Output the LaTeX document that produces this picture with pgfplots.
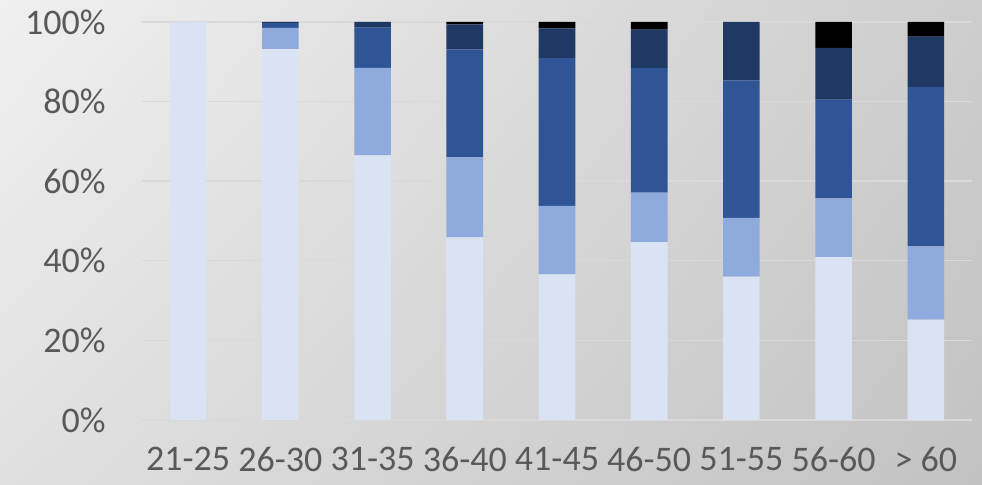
\documentclass[border=0pt]{standalone}
\usepackage{fontspec}
\setmainfont{Carlito}
\usepackage{pgfplots}
\usepackage{pgfplotstable}
\usetikzlibrary{shadings}
\pgfplotsset{compat=1.18}
\definecolor{c1}{HTML}{DAE3F3}
\definecolor{c2}{HTML}{8FAADC}
\definecolor{c3}{HTML}{2F5597}
\definecolor{c4}{HTML}{1F3864}
\definecolor{c5}{HTML}{000000}
\definecolor{txt}{HTML}{595959}
\definecolor{grd}{HTML}{D9D9D9}
\definecolor{bgUL}{HTML}{F0F0F0}
\definecolor{bgUR}{HTML}{CDCDCD}
\definecolor{bgLL}{HTML}{E0E0E0}
\definecolor{bgLR}{HTML}{C2C2C2}
\pgfplotstableread{
x a b c d e
0 100 0 0 0 0
1 93.2 5.3 1.2 0.3 0
2 66.5 22.0 10.1 1.4 0
3 45.9 20.1 27.1 6.3 0.6
4 36.6 17.2 37.1 7.5 1.6
5 44.7 12.4 31.4 9.6 1.9
6 36.0 14.8 34.5 14.7 0
7 40.9 14.8 24.8 13.0 6.5
8 25.2 18.4 40.1 12.6 3.7
}\datatable
\begin{document}
\begin{tikzpicture}
\shade[upper left=bgUL, upper right=bgUR, lower left=bgLL, lower right=bgLR] (-71pt,-32.5pt) rectangle (420pt,210pt);
\begin{axis}[
  at={(0,0)}, anchor=south west,
  scale only axis,
  width=415pt, height=199pt,
  ybar stacked,
  bar width=18.3pt,
  xmin=-0.5, xmax=8.5,
  ymin=0, ymax=100,
  xtick=data,
  xticklabels={21-25,26-30,31-35,36-40,41-45,46-50,51-55,56-60,> 60},
  ytick={0,20,40,60,80,100},
  yticklabels={0\%,20\%,40\%,60\%,80\%,100\%},
  ymajorgrids,
  grid style={grd, line width=0.7pt},
  axis line style={draw=none},
  major tick length=0pt,
  /pgf/number format/assume math mode=true,
  tick label style={font=\fontsize{18}{21}\selectfont, text=txt, inner sep=0pt},
  yticklabel style={anchor=east, xshift=-18pt},
  xticklabel style={anchor=north, yshift=-13.5pt},
  clip=false,
]
\addplot[fill=c1, draw=none] table[x=x, y=a] {\datatable};
\addplot[fill=c2, draw=none] table[x=x, y=b] {\datatable};
\addplot[fill=c3, draw=none] table[x=x, y=c] {\datatable};
\addplot[fill=c4, draw=none] table[x=x, y=d] {\datatable};
\addplot[fill=c5, draw=none] table[x=x, y=e] {\datatable};
\end{axis}
\pgfresetboundingbox
\useasboundingbox (-71pt,-32.5pt) rectangle (420pt,210pt);
\end{tikzpicture}
\end{document}
